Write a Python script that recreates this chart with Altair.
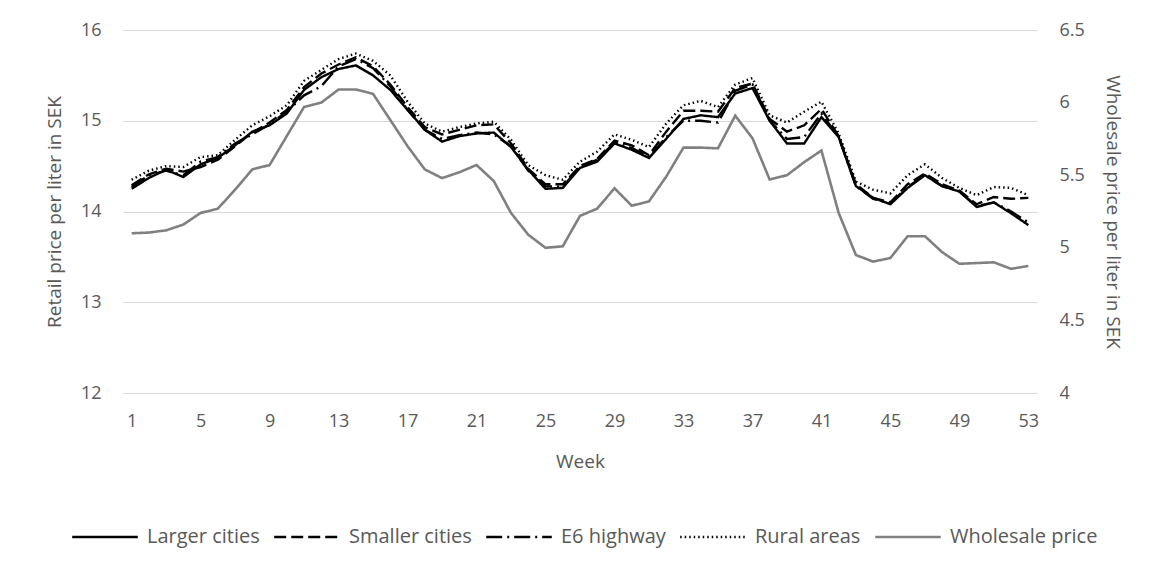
import altair as alt
import pandas as pd

weeks = list(range(1, 54))

larger_cities = [14.25, 14.37, 14.46, 14.38, 14.52, 14.59, 14.73, 14.88, 14.95, 15.08,
                 15.34, 15.48, 15.57, 15.61, 15.50, 15.34, 15.12, 14.90, 14.77, 14.83,
                 14.86, 14.87, 14.71, 14.46, 14.25, 14.26, 14.48, 14.55, 14.75, 14.68,
                 14.59, 14.80, 15.02, 15.06, 15.04, 15.30, 15.36, 15.00, 14.75, 14.75,
                 15.04, 14.82, 14.28, 14.15, 14.08, 14.26, 14.40, 14.28, 14.22, 14.05,
                 14.10, 13.98, 13.85]

smaller_cities = [14.29, 14.41, 14.47, 14.44, 14.49, 14.57, 14.72, 14.87, 14.98, 15.12,
                  15.37, 15.52, 15.62, 15.70, 15.60, 15.40, 15.15, 14.93, 14.85, 14.90,
                  14.95, 14.96, 14.75, 14.47, 14.30, 14.30, 14.50, 14.58, 14.78, 14.73,
                  14.62, 14.88, 15.11, 15.11, 15.10, 15.36, 15.41, 15.02, 14.88, 14.95,
                  15.13, 14.83, 14.30, 14.15, 14.10, 14.30, 14.42, 14.30, 14.23, 14.08,
                  14.16, 14.14, 14.15]

e6_highway = [14.27, 14.40, 14.45, 14.40, 14.55, 14.60, 14.75, 14.85, 14.96, 15.10,
              15.28, 15.38, 15.60, 15.68, 15.58, 15.38, 15.12, 14.90, 14.80, 14.84,
              14.87, 14.85, 14.72, 14.45, 14.28, 14.27, 14.50, 14.57, 14.76, 14.70,
              14.60, 14.82, 15.00, 15.00, 14.98, 15.33, 15.40, 15.00, 14.80, 14.82,
              15.08, 14.82, 14.28, 14.14, 14.09, 14.27, 14.40, 14.28, 14.22, 14.06,
              14.10, 14.00, 13.88]

rural_areas = [14.35, 14.45, 14.50, 14.49, 14.60, 14.62, 14.79, 14.95, 15.05, 15.17,
               15.44, 15.56, 15.68, 15.74, 15.66, 15.50, 15.21, 14.97, 14.88, 14.93,
               14.97, 14.99, 14.79, 14.51, 14.40, 14.35, 14.55, 14.66, 14.85, 14.79,
               14.71, 14.97, 15.17, 15.22, 15.15, 15.40, 15.47, 15.06, 14.98, 15.10,
               15.21, 14.86, 14.33, 14.24, 14.20, 14.40, 14.52, 14.37, 14.26, 14.18,
               14.27, 14.26, 14.18]

wholesale_price = [5.10, 5.105, 5.12, 5.16, 5.24, 5.27, 5.40, 5.54, 5.57, 5.77,
                   5.97, 6.00, 6.09, 6.09, 6.06, 5.88, 5.70, 5.54, 5.48, 5.52,
                   5.57, 5.46, 5.24, 5.09, 5.00, 5.01, 5.22, 5.27, 5.41, 5.29,
                   5.32, 5.49, 5.69, 5.69, 5.685, 5.91, 5.755, 5.47, 5.50, 5.59,
                   5.67, 5.24, 4.95, 4.905, 4.93, 5.08, 5.08, 4.97, 4.89, 4.895,
                   4.90, 4.855, 4.875]

series_names = ["Larger cities", "Smaller cities", "E6 highway", "Rural areas", "Wholesale price"]
series_colors = ["#000000", "#000000", "#000000", "#000000", "#808080"]
series_dashes = [[1, 0], [12, 5], [16, 5, 2, 5], [1.5, 3], [1, 0]]

x_ticks = list(range(1, 54, 4))
left_ticks = [12, 13, 14, 15, 16]
right_ticks = [4, 4.5, 5, 5.5, 6, 6.5]

retail_rows = []
for name, vals in zip(series_names[:4], [larger_cities, smaller_cities, e6_highway, rural_areas]):
    for w, v in zip(weeks, vals):
        retail_rows.append({"week": w, "value": v, "series": name})
retail = pd.DataFrame(retail_rows)
wholesale = pd.DataFrame({"week": weeks, "value": wholesale_price, "series": "Wholesale price"})

FONT = "Open Sans"
TXT = "#595959"

x_enc = alt.X("week:Q", scale=alt.Scale(domain=[0.5, 53.5], nice=False, zero=False),
              axis=alt.Axis(values=x_ticks, format="d", title="Week", grid=False,
                            domain=False, ticks=False, labelPadding=19, titlePadding=22))

color_enc = alt.Color("series:N", scale=alt.Scale(domain=series_names, range=series_colors),
                      legend=alt.Legend(title=None, orient="none", direction="horizontal",
                                        legendX=-52, legendY=473, symbolType="stroke",
                                        symbolSize=4300, symbolStrokeWidth=2.4,
                                        labelFontSize=20, labelFont=FONT, labelColor=TXT,
                                        labelOffset=8, columnPadding=9, columns=5))
dash_enc = alt.StrokeDash("series:N", scale=alt.Scale(domain=series_names, range=series_dashes),
                          legend=None)

retail_layer = alt.Chart(retail).mark_line(strokeWidth=2.4).encode(
    x=x_enc,
    y=alt.Y("value:Q", scale=alt.Scale(domain=[12, 16], nice=False, zero=False),
            axis=alt.Axis(values=left_ticks, title="Retail price per liter in SEK",
                          orient="left", grid=True, gridColor="#d9d9d9", domain=False,
                          ticks=False, labelPadding=22, titlePadding=16)),
    color=color_enc,
    strokeDash=dash_enc,
    detail="series:N",
)

wholesale_layer = alt.Chart(wholesale).mark_line(strokeWidth=2.6).encode(
    x=x_enc,
    y=alt.Y("value:Q", scale=alt.Scale(domain=[4, 6.5], nice=False, zero=False),
            axis=alt.Axis(values=right_ticks, format="~g", title="Wholesale price per liter in SEK",
                          orient="right", grid=False, domain=False, ticks=False,
                          labelPadding=22, titlePadding=18)),
    color=color_enc,
    strokeDash=dash_enc,
)

chart = alt.layer(retail_layer, wholesale_layer).resolve_scale(
    y="independent"
).properties(
    width=914, height=363,
    autosize=alt.AutoSizeParams(type="none"),
    padding={"left": 115, "top": 22, "right": 115, "bottom": 170},
).configure_view(stroke=None).configure_axis(
    labelFont=FONT, titleFont=FONT, labelFontSize=18, titleFontSize=19,
    labelColor=TXT, titleColor=TXT, titleFontWeight="normal"
)

chart.save("out.html", embed_options={"renderer": "svg", "actions": False})
